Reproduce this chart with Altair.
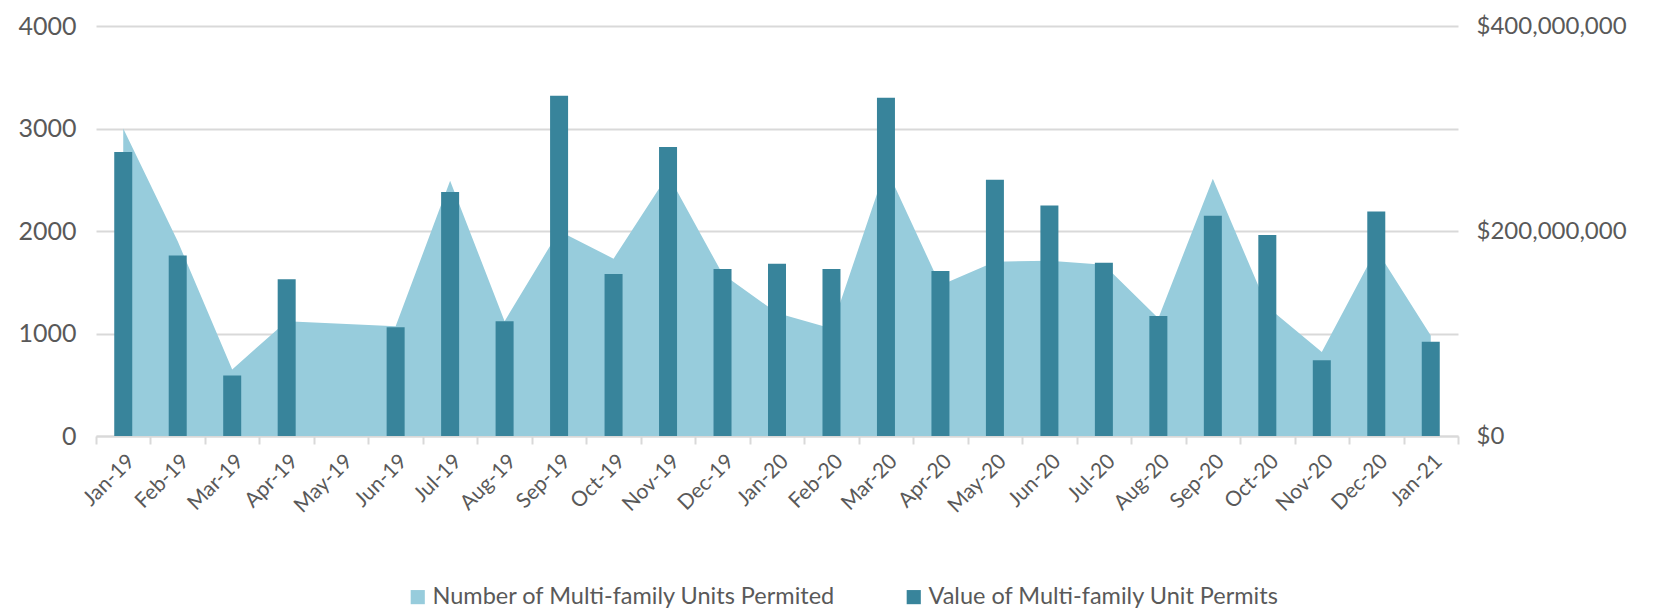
import altair as alt
import pandas as pd

months = ["Jan-19", "Feb-19", "Mar-19", "Apr-19", "May-19", "Jun-19", "Jul-19", "Aug-19",
          "Sep-19", "Oct-19", "Nov-19", "Dec-19", "Jan-20", "Feb-20", "Mar-20", "Apr-20",
          "May-20", "Jun-20", "Jul-20", "Aug-20", "Sep-20", "Oct-20", "Nov-20", "Dec-20", "Jan-21"]

units = [3000, 1900, 650, 1120, None, 1070, 2490, 1120,
         2000, 1730, 2550, 1580, 1200, 1050, 2620, 1470,
         1700, 1710, 1670, 1150, 2510, 1260, 820, 1820, 980]

values = [277e6, 176e6, 59e6, 153e6, None, 106e6, 238e6, 112e6,
          332e6, 158e6, 282e6, 163e6, 168e6, 163e6, 330e6, 161e6,
          250e6, 225e6, 169e6, 117e6, 215e6, 196e6, 74e6, 219e6, 92e6]

s_units = "Number of Multi-family Units Permited"
s_value = "Value of Multi-family Unit Permits"

df = pd.DataFrame({"month": months, "units": units, "value": values})

FONT = "Lato"
GRAY = "#595959"
LINE = "#d9d9d9"

color = alt.Color(
    "series:N",
    scale=alt.Scale(domain=[s_units, s_value], range=["#97CCDC", "#38849B"]),
    legend=alt.Legend(
        title=None, orient="none", direction="horizontal",
        legendX=310, legendY=559,
        symbolType="square", symbolSize=200, symbolStrokeWidth=0,
        labelFont=FONT, labelFontSize=23.5, labelColor=GRAY, labelLimit=0,
        columnPadding=66, labelOffset=3,
    ),
)

x = alt.X(
    "month:N", sort=months, title=None,
    scale=alt.Scale(domain=months, paddingInner=0, paddingOuter=0),
    axis=alt.Axis(
        labelAngle=-45, labelFont=FONT, labelFontSize=21, labelColor=GRAY,
        tickBand="extent", tickColor=LINE, tickWidth=2, tickSize=8,
        domainColor=LINE, domainWidth=2, labelPadding=6, grid=False,
    ),
)

area = alt.Chart(df).transform_filter("datum.units != null").transform_calculate(
    series=f"'{s_units}'"
).mark_area(color="#97CCDC", opacity=1).encode(
    x=x,
    y=alt.Y(
        "units:Q", title=None,
        scale=alt.Scale(domain=[0, 4000]),
        axis=alt.Axis(
            values=[0, 1000, 2000, 3000, 4000], format="d", labelFont=FONT, labelFontSize=25,
            labelColor=GRAY, grid=True, gridColor=LINE, gridWidth=2,
            domain=False, ticks=False, labelPadding=20,
        ),
    ),
    color=color,
)

bars = alt.Chart(df).transform_filter("datum.value != null").transform_calculate(
    series=f"'{s_value}'"
).mark_bar(size=18, opacity=1).encode(
    x=x,
    y=alt.Y(
        "value:Q", title=None,
        scale=alt.Scale(domain=[0, 400e6]),
        axis=alt.Axis(
            orient="right", values=[0, 200e6, 400e6], format="$,.0f",
            labelFont=FONT, labelFontSize=24, labelColor=GRAY,
            grid=False, domain=False, ticks=False, labelPadding=18,
        ),
    ),
    color=color,
)

chart = alt.layer(area, bars).resolve_scale(y="independent").properties(
    width=1362, height=410, background="white",
    padding={"left": 9, "top": 6, "right": 5, "bottom": 5},
).configure_view(stroke=None).configure_axisY(domain=False)

chart.save("out.html", embed_options={"renderer": "svg", "actions": False})
